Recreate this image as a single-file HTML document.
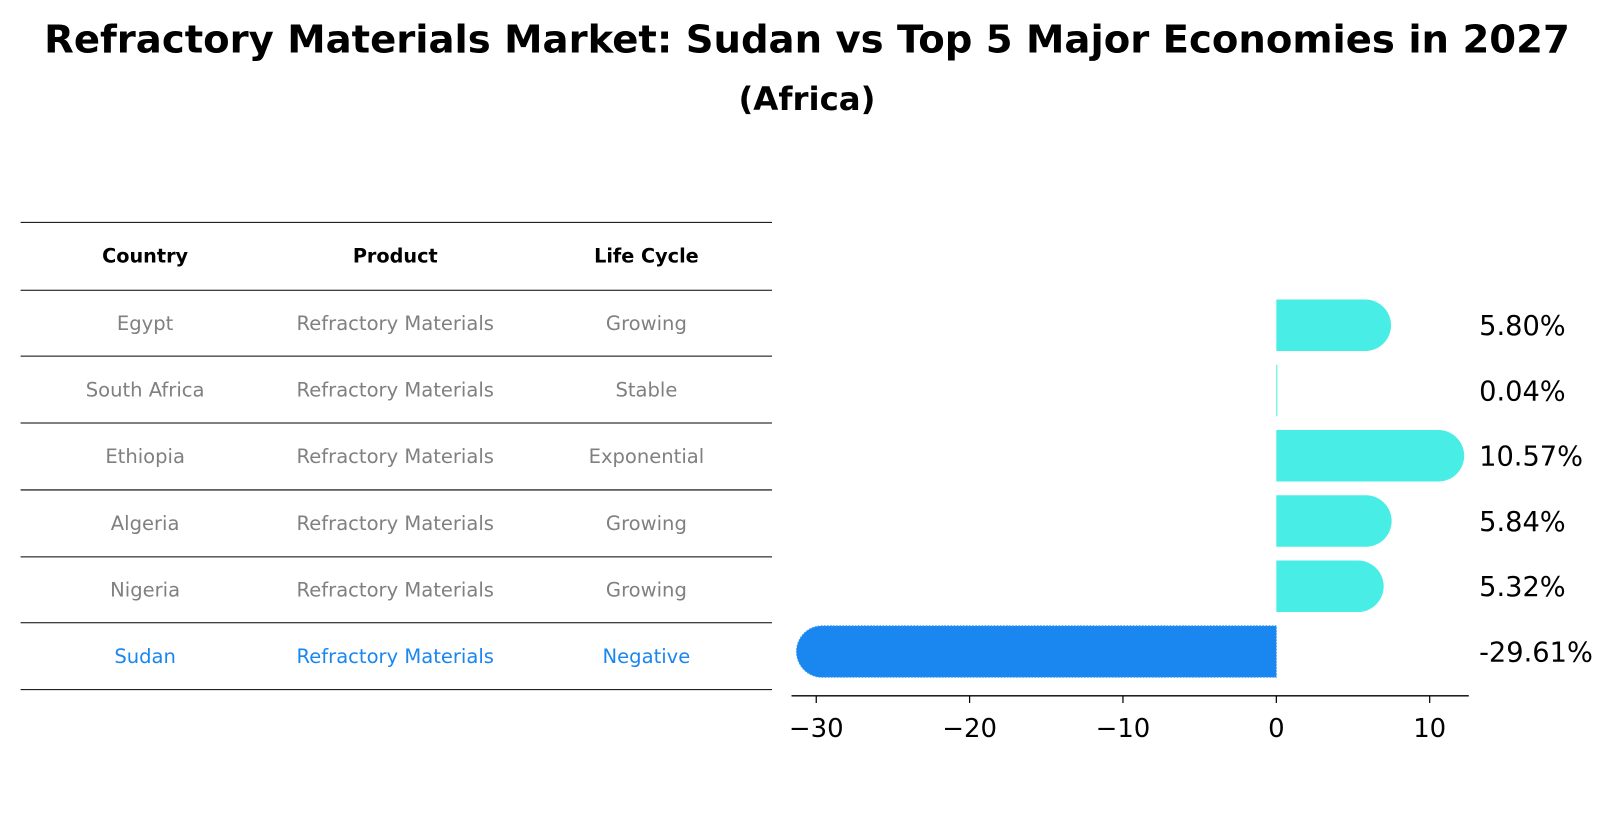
<!DOCTYPE html>
<html><head><meta charset="utf-8"><style>
body{margin:0;background:#fff;font-family:"Liberation Sans","DejaVu Sans",sans-serif;}
svg text{font-family:"DejaVu Sans","Liberation Sans",sans-serif;}
</style></head><body>
<svg id="c" width="1614" height="823" xmlns="http://www.w3.org/2000/svg">
<g transform="scale(1.0293)">
<text x="784" y="51" text-anchor="middle" font-size="37.5" font-weight="bold">Refractory Materials Market: Sudan vs Top 5 Major Economies in 2027</text>
<text x="784" y="107" text-anchor="middle" font-size="31.5" font-weight="bold">(Africa)</text>
<g id="table"></g>
<g id="bars"></g>
</g>
</svg>
<script>
const countries=["Egypt","South Africa","Ethiopia","Algeria","Nigeria","Sudan"];
const products=["Refractory Materials","Refractory Materials","Refractory Materials","Refractory Materials","Refractory Materials","Refractory Materials"];
const lifeCycles=["Growing","Stable","Exponential","Growing","Growing","Negative"];
const values=[5.80,0.04,10.57,5.84,5.32,-29.61];
const ticks=[-30,-20,-10,0,10];
const NS="http://www.w3.org/2000/svg";
function mk(t,a,p){const e=document.createElementNS(NS,t);for(const k in a)e.setAttribute(k,a[k]);p.appendChild(e);return e;}
const tb=document.getElementById('table');
const lineYs=[216,282,346,411,476,541,605,670];
lineYs.forEach((y,i)=>{const l=mk('line',{x1:20,x2:750,y1:y,y2:y,stroke:'#000','stroke-width':1},tb);

});
const colX=[141,384,628];
["Country","Product","Life Cycle"].forEach((h,i)=>{const t=mk('text',{x:colX[i],y:255,'text-anchor':'middle','font-size':18.7,'font-weight':'bold'},tb);t.textContent=h;

});
countries.forEach((c,r)=>{const y=(lineYs[r+1]+lineYs[r+2])/2+6.5;const col=r===countries.length-1?'#1a86f0':'#808080';
[c,products[r],lifeCycles[r]].forEach((v,i)=>{const t=mk('text',{x:colX[i],y:y,'text-anchor':'middle','font-size':19,fill:col},tb);t.textContent=v;

});});
const bg=document.getElementById('bars');
const x0=1240,ppu=14.9;const xs=v=>x0+v*ppu;
const y0=316,step=63.4,bh=50,rad=25;
values.forEach((v,i)=>{const cy=y0+i*step;const neg=v<0;const col=neg?'#1a86f0':'#48ede6';
const xe=xs(v);const top=cy-bh/2,bot=cy+bh/2;let d;
if(Math.abs(v)<0.5){const r=mk('rect',{x:x0,y:top,width:1,height:bh,fill:col},bg);}
else{ if(!neg) d=`M${x0},${top}L${xe},${top}A${rad},${rad} 0 0 1 ${xe},${bot}L${x0},${bot}Z`;
else d=`M${x0},${top}L${xe},${top}A${rad},${rad} 0 0 0 ${xe},${bot}L${x0},${bot}Z`;
const p=mk('path',{d:d,fill:col},bg);
if(neg){p.setAttribute('stroke','#3a9af5');p.setAttribute('stroke-dasharray','1.5 1.5');}

}
const t=mk('text',{x:1437,y:cy+9.5,'font-size':26.5},bg);t.textContent=v.toFixed(2)+'%';

});
const ax=mk('line',{x1:769,x2:1427,y1:676,y2:676,stroke:'#000','stroke-width':1.3},bg);


ticks.forEach(tv=>{const x=xs(tv);const l=mk('line',{x1:x,x2:x,y1:676,y2:683,stroke:'#000','stroke-width':1.2},bg);


const t=mk('text',{x:x,y:716,'text-anchor':'middle','font-size':25.2},bg);t.textContent=(tv<0?'\u2212'+(-tv):tv);

});
</script>
</body></html>
